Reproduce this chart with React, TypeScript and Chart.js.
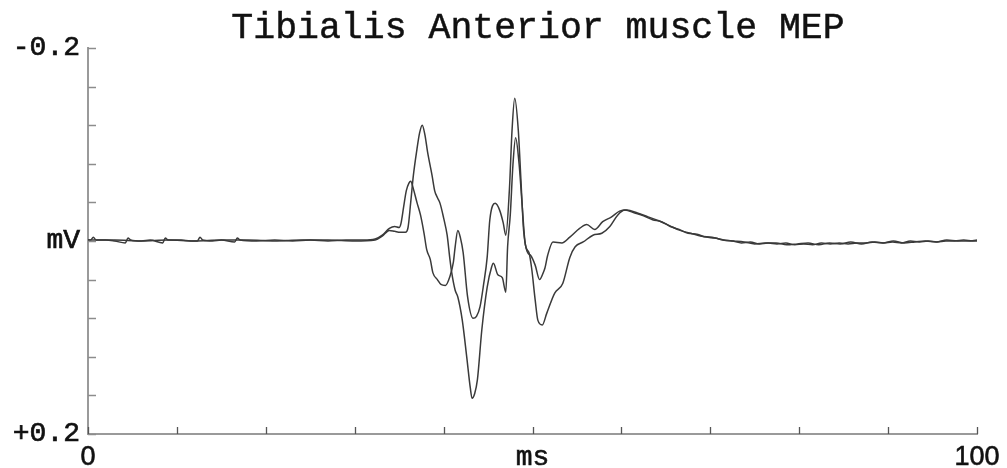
import React, { useEffect, useRef } from 'react';
import { Chart, registerables } from 'chart.js';

Chart.register(...registerables);

const TITLE = 'Tibialis Anterior muscle MEP';

const X_MIN = 0;
const X_MAX = 100;
const X_STEP = 10;
const Y_MIN = -0.2;
const Y_MAX = 0.2;
const Y_STEP = 0.04;

const xTickValues = [0, 50, 100];
const xTickTexts = ['0', 'ms', '100'];
const yTickValues = [-0.2, 0, 0.2];
const yTickTexts = ['-0.2', 'mV', '+0.2'];

// Trace A (earlier, smaller first peak)
const traceA_ms = [
  0, 0.3, 0.6, 0.9, 2.0, 3.0, 4.2, 4.5, 4.8, 6.0, 7.0, 8.4, 8.7, 9.0, 10.5, 11.5, 12.3, 12.6, 12.9,
  14.0, 15.0, 16.5, 16.8, 17.1, 19.0, 21.0, 23.0, 25.0, 27.0, 29.0, 31.0,
  32.3, 33.1, 33.9, 34.5, 35.0, 35.2, 35.5, 35.8, 36.1, 36.3, 36.6, 37.0, 37.4, 37.8, 38.1, 38.5,
  38.8, 39.3, 39.7, 40.2, 40.7, 41.1, 41.3, 41.6, 41.9, 42.2, 42.7, 43.3, 43.7, 44.1, 44.5, 44.9,
  45.2, 45.8, 46.3, 46.7, 47.0, 47.4, 47.7, 48.0, 48.4, 48.7, 49.0, 49.4, 49.8, 50.3, 50.8, 51.2,
  51.4, 51.7, 52.3, 53.3, 54.2, 55.3, 56.1, 57.0, 57.9, 58.9, 59.8, 60.6,
  61.8, 63.0, 64.2, 65.4, 66.6, 67.8, 69.0, 70.2, 71.4, 72.6, 73.8, 75.0, 76.2, 77.4, 78.6, 79.8,
  81.0, 82.2, 83.4, 84.6, 85.8, 87.0, 88.2, 89.4, 90.6, 91.8, 93.0, 94.2, 95.4, 96.6, 97.8, 99.0, 100,
];
const traceA_mV = [
  -0.001, -0.001, -0.004, -0.001, -0.001, 0.0, 0.002, -0.003, -0.001, 0.0, -0.001, 0.002, -0.003, -0.001, -0.001, 0.0, 0.0, -0.004, -0.001,
  0.0, -0.001, 0.001, -0.003, -0.001, 0.0, -0.001, 0.0, -0.001, 0.0, -0.001, -0.001,
  -0.002, -0.006, -0.013, -0.015, -0.014, -0.018, -0.035, -0.052, -0.060, -0.062, -0.054, -0.040, -0.027, -0.008, 0.009, 0.019,
  0.033, 0.040, 0.045, 0.046, 0.037, 0.022, 0.006, -0.011, -0.003, 0.012, 0.058, 0.080, 0.078, 0.068, 0.045, 0.017,
  -0.022, -0.039, -0.032, -0.019, -0.006, -0.053, -0.115, -0.148, -0.115, -0.063, -0.011, 0.011, 0.015, 0.025, 0.040, 0.033,
  0.028, 0.015, 0.001, 0.002, -0.004, -0.013, -0.017, -0.012, -0.020, -0.025, -0.031, -0.032,
  -0.029, -0.025, -0.021, -0.016, -0.011, -0.008, -0.005, -0.004, -0.001, 0.0, 0.001, 0.003, 0.002, 0.002, 0.004, 0.003,
  0.002, 0.004, 0.002, 0.003, 0.001, 0.003, 0.001, 0.002, 0.0, 0.002, 0.001, 0.0, 0.001, -0.001, 0.0, 0.0, -0.001,
];

// Trace B (later, larger first peak)
const traceB_ms = [
  0, 3.0, 6.0, 9.0, 12.0, 15.0, 18.0, 21.0, 24.0, 27.0, 30.0,
  32.3, 33.1, 33.9, 34.5, 35.1, 35.7, 36.0, 36.3, 36.6, 37.0, 37.3, 37.6, 37.9, 38.2, 38.7, 39.0,
  39.3, 39.6, 40.0, 40.4, 40.7, 40.9, 41.3, 41.6, 42.1, 42.6, 43.0, 43.2, 43.5, 43.8, 44.3, 44.9,
  45.4, 45.6, 46.1, 46.6, 47.0, 47.2, 47.5, 47.8, 48.1, 48.5, 48.8, 49.2, 49.6, 49.9, 50.3, 50.6,
  51.1, 51.6, 52.5, 53.4, 54.2, 54.8, 55.7, 56.8, 57.8, 58.7, 59.6, 60.4,
  61.5, 62.5, 63.5, 64.5, 65.5, 66.5, 67.5, 68.5, 69.5, 70.5, 71.5, 72.5, 73.5, 74.5, 75.5, 76.5,
  77.5, 78.5, 79.5, 80.5, 81.5, 82.5, 83.5, 84.5, 85.5, 86.5, 87.5, 88.5, 89.5, 90.5, 91.5, 92.5,
  93.5, 94.5, 95.5, 96.5, 97.5, 98.5, 99.5, 100,
];
const traceB_mV = [
  -0.001, -0.001, 0.0, -0.001, 0.0, -0.001, -0.001, 0.0, -0.001, -0.001, 0.0,
  -0.001, -0.005, -0.011, -0.010, -0.009, -0.009, -0.014, -0.040, -0.068, -0.095, -0.112, -0.120, -0.110, -0.092, -0.068, -0.052,
  -0.045, -0.039, -0.024, -0.006, 0.018, 0.032, 0.051, 0.058, 0.082, 0.120, 0.152, 0.163, 0.158, 0.144, 0.092, 0.048,
  0.027, 0.023, 0.035, 0.038, 0.053, 0.006, -0.027, -0.079, -0.107, -0.079, -0.042, 0.004, 0.012, 0.028, 0.061, 0.082,
  0.087, 0.075, 0.054, 0.044, 0.017, 0.006, 0.001, -0.006, -0.008, -0.015, -0.027, -0.032,
  -0.029, -0.026, -0.022, -0.020, -0.015, -0.012, -0.008, -0.007, -0.004, -0.003, -0.001, 0.0, 0.002, 0.001, 0.003, 0.002,
  0.003, 0.002, 0.004, 0.003, 0.004, 0.002, 0.003, 0.002, 0.003, 0.002, 0.002, 0.001, 0.002, 0.001, 0.002, 0.0,
  0.001, 0.0, 0.001, 0.0, 0.0, -0.001, 0.0, 0.0,
];

const MONO = '"Liberation Mono", "Courier New", monospace';
const SANS = '"Liberation Sans", Arial, sans-serif';

function labelFor(values: number[], texts: string[], v: number): string {
  for (let i = 0; i < values.length; i++) {
    if (Math.abs(values[i] - v) < 1e-6) return texts[i];
  }
  return '';
}

const chromePlugin = {
  id: 'chrome',
  afterDraw(chart: any) {
    const { ctx, scales } = chart;
    const x = scales.x;
    const y = scales.y;
    ctx.save();
    ctx.strokeStyle = '#8c8c8c';
    ctx.lineWidth = 1.5;
    y.ticks.forEach((_t: any, i: number) => {
      const py = Math.round(y.getPixelForTick(i)) + 0.5;
      ctx.beginPath();
      ctx.moveTo(y.right, py);
      ctx.lineTo(y.right + 8, py);
      ctx.stroke();
    });
    ctx.strokeStyle = '#555';
    ctx.lineWidth = 1.3;
    x.ticks.forEach((_t: any, i: number) => {
      const px = Math.round(x.getPixelForTick(i)) + 0.5;
      ctx.beginPath();
      ctx.moveTo(px, x.top);
      ctx.lineTo(px, x.top - 7);
      ctx.stroke();
    });
    ctx.fillStyle = '#111';
    ctx.strokeStyle = '#111';
    ctx.lineWidth = 0.5;
    ctx.font = `36.5px ${MONO}`;
    ctx.textAlign = 'center';
    ctx.textBaseline = 'alphabetic';
    ctx.fillText(TITLE, 538, 38);
    ctx.strokeText(TITLE, 538, 38);
    ctx.restore();
  },
};

export default function App() {
  const ref = useRef<HTMLCanvasElement | null>(null);

  useEffect(() => {
    document.body.style.margin = '0';
    const canvas = ref.current;
    if (!canvas) return;
    const toPoints = (xs: number[], ys: number[]) => xs.map((v, i) => ({ x: v, y: ys[i] }));
    const lineStyle = {
      borderColor: '#3a3a3a',
      borderWidth: 1.5,
      pointRadius: 0,
      fill: false,
      cubicInterpolationMode: 'monotone' as const,
    };
    const chart = new Chart(canvas, {
      type: 'line',
      data: {
        datasets: [
          { label: 'A', data: toPoints(traceA_ms, traceA_mV), ...lineStyle },
          { label: 'B', data: toPoints(traceB_ms, traceB_mV), ...lineStyle },
        ],
      },
      options: {
        animation: false,
        responsive: false,
        layout: { padding: { top: 48, right: 30, left: 0, bottom: 0 } },
        plugins: {
          legend: { display: false },
          tooltip: { enabled: false },
          title: { display: false },
        },
        scales: {
          x: {
            type: 'linear',
            min: X_MIN,
            max: X_MAX,
            grid: { display: true, drawOnChartArea: false, drawTicks: false },
            border: { display: true, color: '#9a9a9a', width: 2 },
            ticks: {
              stepSize: X_STEP,
              autoSkip: false,
              maxRotation: 0,
              padding: 7,
              color: '#111',
              textStrokeColor: '#111',
              textStrokeWidth: 0.6,
              font: (c: any) => {
                const v = c.tick ? c.tick.value : 0;
                return Math.abs(v - 50) < 1e-6
                  ? { family: MONO, size: 28 }
                  : { family: SANS, size: 27 };
              },
              callback: (v: any) => labelFor(xTickValues, xTickTexts, Number(v)),
            },
            afterFit: (s: any) => {
              s.height = 34;
            },
          },
          y: {
            type: 'linear',
            min: Y_MIN,
            max: Y_MAX,
            reverse: true,
            grid: { display: true, drawOnChartArea: false, drawTicks: false },
            border: { display: true, color: '#9a9a9a', width: 2 },
            ticks: {
              stepSize: Y_STEP,
              autoSkip: false,
              padding: 8,
              color: '#111',
              textStrokeColor: '#111',
              textStrokeWidth: 0.7,
              font: { family: MONO, size: 28 },
              callback: (v: any) => labelFor(yTickValues, yTickTexts, Number(v)),
            },
            afterFit: (s: any) => {
              s.width = 88;
            },
          },
        },
      },
      plugins: [chromePlugin],
    });
    return () => chart.destroy();
  }, []);

  return (
    <div style={{ width: 1007, height: 468, background: '#fff' }}>
      <canvas ref={ref} width={1007} height={468} style={{ display: 'block' }} />
    </div>
  );
}
